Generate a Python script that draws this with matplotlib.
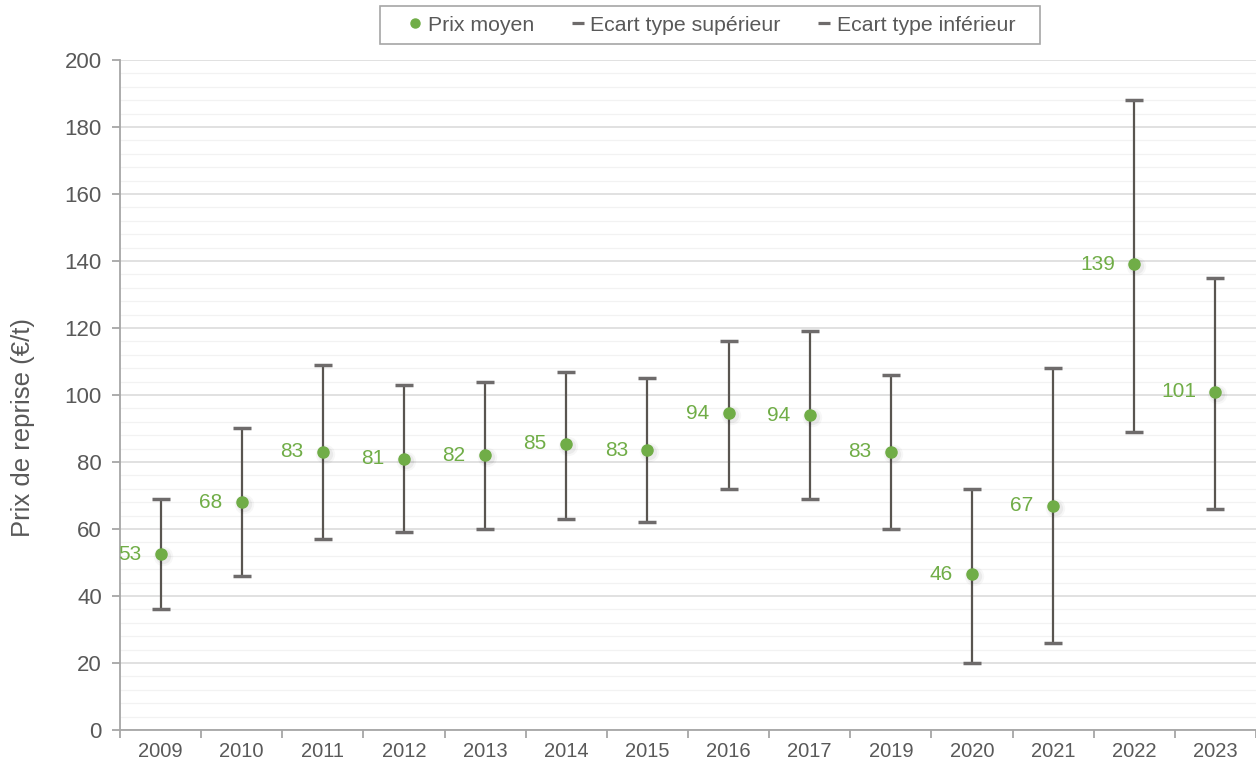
import matplotlib.pyplot as plt
from matplotlib.lines import Line2D
from matplotlib.patches import Rectangle
from matplotlib.transforms import ScaledTranslation
from matplotlib.ticker import MultipleLocator, FixedLocator, NullFormatter

plt.rcParams["font.family"] = ["Liberation Sans", "DejaVu Sans"]

# Years (2018 missing in the source)
years = ["2009", "2010", "2011", "2012", "2013", "2014", "2015",
         "2016", "2017", "2019", "2020", "2021", "2022", "2023"]

# Average buy-back price (€/t)
prix_moyen = [52.5, 68, 83, 81, 82, 85.5, 83.5, 94.5, 94, 83, 46.5, 67, 139, 101]
labels_moyen = [53, 68, 83, 81, 82, 85, 83, 94, 94, 83, 46, 67, 139, 101]

# Upper / lower standard deviation bounds
ecart_sup = [69, 90, 109, 103, 104, 107, 105, 116, 119, 106, 72, 108, 188, 135]
ecart_inf = [36, 46, 57, 59, 60, 63, 62, 72, 69, 60, 20, 26, 89, 66]

green = "#70ad47"
line_col = "#595550"
cap_col = "#6e6b6b"
text_col = "#595959"

fig = plt.figure(figsize=(12.56, 7.66), dpi=100)
ax = fig.add_axes([0.0955, 0.047, 0.9045, 0.8747])

x = list(range(len(years)))

# vertical spread lines
ax.vlines(x, ecart_inf, ecart_sup, color=line_col, linewidth=1.6, zorder=3)

# caps as their own series (as in the legend)
ax.plot(x, ecart_sup, linestyle="none", marker="_", markersize=12.5,
        markeredgewidth=2.5, color=cap_col, zorder=4)
ax.plot(x, ecart_inf, linestyle="none", marker="_", markersize=12.5,
        markeredgewidth=2.5, color=cap_col, zorder=4)

# soft shadow under points
shadow = ax.transData + ScaledTranslation(2 / 100, -2 / 100, fig.dpi_scale_trans)
for ms, a in [(14, 0.03), (11, 0.05)]:
    ax.plot(x, prix_moyen, linestyle="none", marker="o", markersize=ms,
            color="#000000", alpha=a, markeredgewidth=0, zorder=4, transform=shadow)
ax.plot(x, prix_moyen, linestyle="none", marker="o", markersize=8,
        color=green, zorder=5)

for xi, yi, lab in zip(x, prix_moyen, labels_moyen):
    ax.annotate(str(lab), (xi, yi), xytext=(-14, 0), textcoords="offset points",
                ha="right", va="center", color=green, fontsize=15, zorder=6)

ax.set_xlim(-0.5, len(years) - 0.5)
ax.set_ylim(0, 200)

# ticks: labels at centers, tick marks at boundaries
ax.set_xticks(x)
ax.set_xticklabels(years)
ax.xaxis.set_minor_locator(FixedLocator([i - 0.5 for i in range(len(years) + 1)]))
ax.xaxis.set_minor_formatter(NullFormatter())
ax.tick_params(axis="x", which="major", length=0, pad=9, labelsize=14.5, labelcolor=text_col)
ax.tick_params(axis="x", which="minor", length=6, width=1.3, color="#a6a6a6")

ax.yaxis.set_major_locator(MultipleLocator(20))
ax.yaxis.set_minor_locator(MultipleLocator(4))
ax.tick_params(axis="y", which="major", length=6, width=1.3, color="#a6a6a6",
               labelsize=16, labelcolor=text_col, pad=7)
ax.tick_params(axis="y", which="minor", length=0)

ax.grid(axis="y", which="major", color="#d9d9d9", linewidth=1.1, zorder=0)
ax.grid(axis="y", which="minor", color="#f2f2f2", linewidth=0.9, zorder=0)
ax.set_axisbelow(True)

for side in ["top", "right"]:
    ax.spines[side].set_visible(False)
for side in ["left", "bottom"]:
    ax.spines[side].set_color("#a6a6a6")
    ax.spines[side].set_linewidth(1.3)

ax.set_ylabel("Prix de reprise (€/t)", fontsize=18.5, color=text_col)
ax.yaxis.set_label_coords(-0.0745, 0.452)

# legend
handles = [
    Line2D([], [], linestyle="none", marker="o", markersize=6.5, color=green),
    Line2D([], [], linestyle="none", marker="_", markersize=9, markeredgewidth=2.3, color=cap_col),
    Line2D([], [], linestyle="none", marker="_", markersize=9, markeredgewidth=2.3, color=cap_col),
]
leg = fig.legend(handles, ["Prix moyen", "Ecart type supérieur", "Ecart type inférieur"],
                 loc="center", bbox_to_anchor=(0.567, 0.967), ncol=3,
                 frameon=False, fontsize=15.3,
                 handlelength=0.6, handletextpad=0.3, columnspacing=1.75,
                 borderaxespad=0)
for t in leg.get_texts():
    t.set_color(text_col)

# legend frame
fig.patches.append(Rectangle((380 / 1256, 1 - 44 / 766), 660 / 1256, 38 / 766,
                             transform=fig.transFigure, fill=False,
                             edgecolor="#a6a6a6", linewidth=1.2))

fig.savefig("out.png", dpi=100)
